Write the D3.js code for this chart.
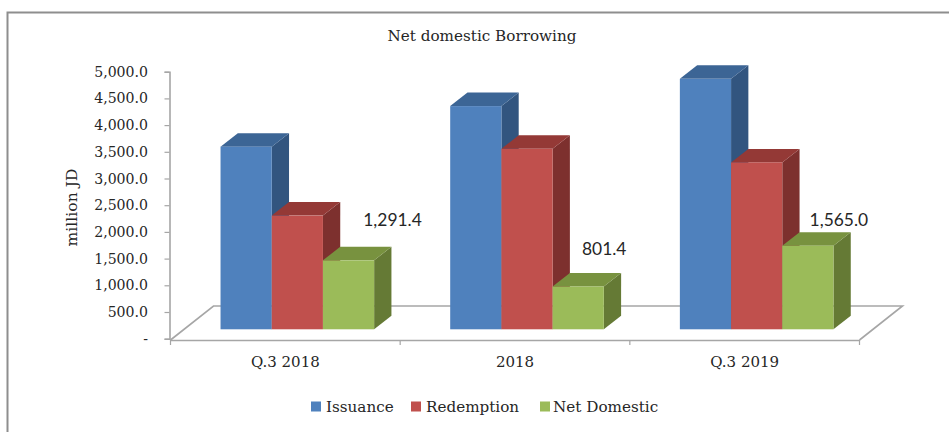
<!DOCTYPE html>
<html><head><meta charset="utf-8">
<script src="https://cdnjs.cloudflare.com/ajax/libs/d3/7.8.5/d3.min.js"></script>
<style>html,body{margin:0;padding:0;background:#fff}svg{display:block}</style>
</head><body><svg id="c" width="949" height="432"></svg>
<script>
const categories = ["Q.3 2018", "2018", "Q.3 2019"];
const seriesNames = ["Issuance", "Redemption", "Net Domestic"];
const issuance = [3420, 4180, 4690];
const redemption = [2129, 3380, 3125];
const netDomestic = [1291.4, 801.4, 1565.0];
const yTicks = [0, 500, 1000, 1500, 2000, 2500, 3000, 3500, 4000, 4500, 5000];
const faceColors = ["#4f81bd", "#c0504d", "#9bbb59"];
const topColors = ["#3c6595", "#943936", "#78923f"];
const sideColors = ["#32557f", "#7d302e", "#657a35"];

const svg = d3.select("#c");
const serif = "'DejaVu Serif', serif", sans = "Lato, sans-serif";
const grey = "#a6a6a6";
const ink = "#262626";

// frame: left and top edges only, running off the picture
svg.append("path").attr("d", "M7.5 432V12.5H949").attr("fill", "none").attr("stroke", "#8e8e8e").attr("stroke-width", 2);

const y = d3.scaleLinear().domain([0, 5000]).range([338.7, 71.7]);
const x0 = d3.scaleBand().domain(categories).range([170.5, 859.5]);
const x1 = d3.scaleBand().domain(seriesNames).range([0, 153.6]);
const fmt = d3.format(",.1f");

// floor
const fd = {dx: 43, dy: -34};
const fy = y(0) + 1.3;
svg.append("path")
  .attr("d", `M${x0.range()[0]} ${fy}L${x0.range()[0]+fd.dx} ${fy+fd.dy}H${x0.range()[1]+fd.dx}L${x0.range()[1]} ${fy}`)
  .attr("fill", "#fff").attr("stroke", grey).attr("stroke-width", 1.6);

// axes
const yAxis = g => {
  g.call(d3.axisLeft(y).tickValues(yTicks).tickSize(5).tickFormat(d => d === 0 ? "-" : fmt(d)));
  g.select(".domain").attr("stroke", grey).attr("stroke-width", 1.6);
  g.selectAll(".tick line").attr("stroke", grey).attr("stroke-width", 1.2);
  g.selectAll("text").attr("x", -21.5).attr("font-family", serif).attr("font-size", 14.1).attr("fill", ink);
};
svg.append("g").attr("transform", "translate(169.5,0)").call(yAxis);

const xAxisG = svg.append("g").attr("transform", `translate(0,${fy})`);
xAxisG.call(d3.axisBottom(x0).tickSize(0).tickPadding(16));
xAxisG.select(".domain").attr("stroke", grey).attr("stroke-width", 1.6);
xAxisG.selectAll("text").attr("font-family", serif).attr("font-size", 15).attr("fill", ink);
const catEdges = d3.range(categories.length + 1).map(i => x0.range()[0] + i * x0.step());
xAxisG.selectAll("line.edge").data(catEdges).join("line").attr("class", "edge")
  .attr("x1", d => d).attr("x2", d => d).attr("y1", 0).attr("y2", 5)
  .attr("stroke", grey).attr("stroke-width", 1.2);

// bars
const depth = {dx: 17.3, dy: -13.5};
const base = 329.3;
const shiftX = 12;
const barW = x1.bandwidth();
const rows = categories.flatMap((c, i) => [issuance[i], redemption[i], netDomestic[i]].map((v, s) => ({c, v, s})));
const barG = svg.append("g");
const groups = barG.selectAll("g").data(rows).join("g");
const left = d => x0(d.c) + x0.bandwidth() / 2 - 76.8 + shiftX + x1(seriesNames[d.s]);
const top_ = d => base - (y(0) - y(d.v));
groups.append("path").attr("fill", d => sideColors[d.s])
  .attr("d", d => { const x = left(d) + barW, t = top_(d);
    return `M${x} ${t}l${depth.dx} ${depth.dy}V${base + depth.dy}l${-depth.dx} ${-depth.dy}Z`; });
groups.append("path").attr("fill", d => topColors[d.s])
  .attr("d", d => { const x = left(d), t = top_(d);
    return `M${x} ${t}l${depth.dx} ${depth.dy}h${barW}l${-depth.dx} ${-depth.dy}Z`; });
groups.append("rect").attr("fill", d => faceColors[d.s])
  .attr("x", left).attr("y", top_).attr("width", barW).attr("height", d => base - top_(d));

// data labels
const labelOffsets = [[44, -34], [26, -31.3], [31, -19.6]];
svg.append("g").selectAll("text").data(netDomestic).join("text")
  .attr("x", (d, i) => x0(categories[i]) + x0.bandwidth() / 2 + 76.8 + shiftX - barW / 2 + labelOffsets[i][0])
  .attr("y", (d, i) => base - (y(0) - y(d)) + labelOffsets[i][1])
  .attr("text-anchor", "middle").attr("font-family", sans).attr("font-size", 17.4).attr("fill", ink)
  .text(d => fmt(d));

// titles
svg.append("text").attr("x", 482).attr("y", 41).attr("text-anchor", "middle")
  .attr("font-family", serif).attr("font-size", 15.2).attr("fill", ink).text("Net domestic Borrowing");
svg.append("text").attr("transform", "translate(77,207.5) rotate(-90)").attr("text-anchor", "middle")
  .attr("font-family", serif).attr("font-size", 15.6).attr("fill", ink).text("million JD");

// legend
const legendX = [311, 411, 540];
const legendTextX = [15, 15, 13];
const legend = svg.append("g").selectAll("g").data(seriesNames).join("g")
  .attr("transform", (d, i) => `translate(${legendX[i]},401.5)`);
legend.append("rect").attr("width", 10).attr("height", 10).attr("fill", (d, i) => faceColors[i]);
legend.append("text").attr("x", (d, i) => legendTextX[i]).attr("y", 10.5).attr("font-family", serif).attr("font-size", 15.2)
  .attr("fill", ink).text(d => d);
</script></body></html>
